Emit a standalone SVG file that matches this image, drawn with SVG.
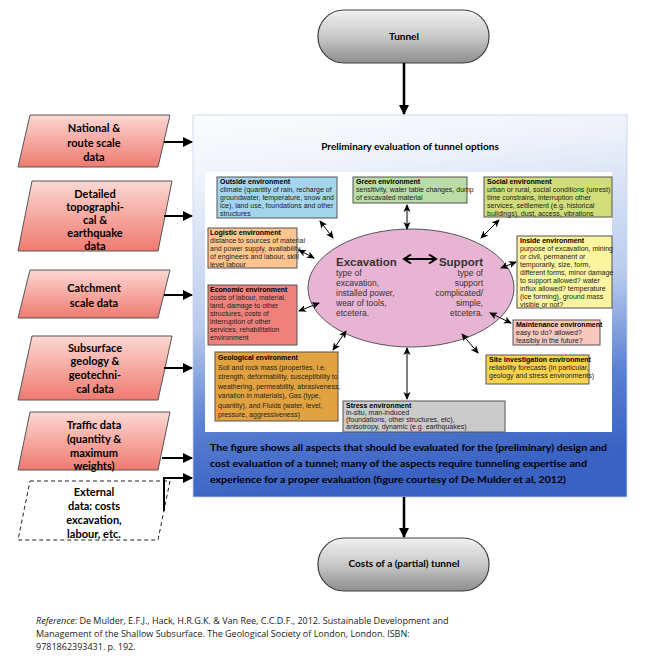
<svg xmlns="http://www.w3.org/2000/svg" width="648" height="663" viewBox="0 0 648 663">
<defs>
<linearGradient id="gPill" x1="0" y1="0" x2="0" y2="1">
<stop offset="0" stop-color="#f2f2f2"/><stop offset="0.5" stop-color="#c8c8c8"/><stop offset="1" stop-color="#8e8e8e"/>
</linearGradient>
<linearGradient id="gMain" x1="0" y1="0" x2="0.15" y2="1">
<stop offset="0" stop-color="#fbfcfe"/><stop offset="0.15" stop-color="#f1f4fb"/><stop offset="0.55" stop-color="#b9cbed"/><stop offset="0.8" stop-color="#5a80d2"/><stop offset="1" stop-color="#3a62c3"/>
</linearGradient>
<linearGradient id="gIn" x1="0" y1="0" x2="0" y2="1">
<stop offset="0" stop-color="#fcd8d3"/><stop offset="1" stop-color="#ef7a70"/>
</linearGradient>
<marker id="ah" markerUnits="userSpaceOnUse" markerWidth="10" markerHeight="10" refX="9" refY="5" orient="auto">
<path d="M0,0 L10,5 L0,10 z" fill="#000"/>
</marker>
<marker id="as" markerUnits="userSpaceOnUse" markerWidth="8" markerHeight="8" refX="7" refY="4" orient="auto-start-reverse">
<path d="M0,0.5 L8,4 L0,7.5 L2,4 z" fill="#000"/>
</marker>
<marker id="am" markerUnits="userSpaceOnUse" markerWidth="10" markerHeight="10" refX="8" refY="5" orient="auto-start-reverse">
<path d="M1,0.5 L8,5 L1,9.5" fill="none" stroke="#000" stroke-width="2"/>
</marker>
</defs>
<style>
.pill{fill:url(#gPill);stroke:#404040;stroke-width:1.2}
.inp{fill:url(#gIn);stroke:#555;stroke-width:1}
.ext{fill:#fff;stroke:#222;stroke-width:1;stroke-dasharray:4,3}
.lt{font-family:Lato,"Liberation Sans",sans-serif;font-weight:bold;font-size:11px;fill:#000;text-anchor:middle}
.ct{font-family:Lato,"Liberation Sans",sans-serif;font-weight:bold;font-size:10px;fill:#000}
.box{stroke:#555;stroke-width:1}
.bt{font-family:"Liberation Sans",Arial,sans-serif;font-size:7px;fill:#222}
.bt .h{font-weight:bold;fill:#000}
.et{font-family:"Liberation Sans",Arial,sans-serif;font-size:8.5px;fill:#333}
.eh{font-family:"Liberation Sans",Arial,sans-serif;font-size:11.5px;font-weight:bold;fill:#333}
.ref{font-family:"Open Sans","Liberation Sans",sans-serif;font-size:9px;fill:#222}
.conn line,.conn path{stroke:#000;fill:none}
</style>

<g id="tunnel">
<rect class="pill" x="318" y="10" width="171" height="53" rx="26"/>
<text class="ct" x="404" y="40" text-anchor="middle">Tunnel</text>
</g>

<g id="costs">
<rect class="pill" x="318" y="538" width="171" height="53" rx="26"/>
<text class="ct" x="404" y="567" text-anchor="middle">Costs of a (partial) tunnel</text>
</g>

<g id="main">
<rect x="193" y="115" width="434" height="382" fill="url(#gMain)" stroke="#c8d2ea" stroke-width="0.8"/>
<text class="ct" x="410" y="150" text-anchor="middle">Preliminary evaluation of tunnel options</text>
<rect x="205" y="172" width="407" height="260" fill="#fff"/>
<text class="ct" x="210" y="451" textLength="397" lengthAdjust="spacingAndGlyphs">The figure shows all aspects that should be evaluated for the (preliminary) design and</text>
<text class="ct" x="210" y="467" textLength="377" lengthAdjust="spacingAndGlyphs">cost evaluation of a tunnel; many of the aspects require tunneling expertise and</text>
<text class="ct" x="210" y="483" textLength="356" lengthAdjust="spacingAndGlyphs">experience for a proper evaluation (figure courtesy of De Mulder et al, 2012)</text>
</g>

<g id="ellipse">
<ellipse cx="411" cy="288" rx="103" ry="59" fill="#e8b4d4" stroke="#555" stroke-width="1"/>
<text class="eh" x="336" y="266">Excavation</text>
<text class="et" x="336" y="276">type of</text>
<text class="et" x="336" y="286">excavation,</text>
<text class="et" x="336" y="296">installed power,</text>
<text class="et" x="336" y="306">wear of tools,</text>
<text class="et" x="336" y="316">etcetera.</text>
<text class="eh" x="483" y="266" text-anchor="end">Support</text>
<text class="et" x="483" y="276" text-anchor="end">type of</text>
<text class="et" x="483" y="286" text-anchor="end">support</text>
<text class="et" x="483" y="296" text-anchor="end">complicated/</text>
<text class="et" x="483" y="306" text-anchor="end">simple,</text>
<text class="et" x="483" y="316" text-anchor="end">etcetera.</text>
</g>

<g id="outside">
<rect class="box" x="217" y="177" width="120" height="41" fill="#a3d5ec"/>
<text class="bt"><tspan class="h" x="220" y="184">Outside environment</tspan><tspan x="220" y="192">climate (quantity of rain, recharge of</tspan><tspan x="220" y="200">groundwater, temperature, snow and</tspan><tspan x="220" y="208">ice), land use, foundations and other</tspan><tspan x="220" y="216">structures</tspan></text>
</g>
<g id="green">
<rect class="box" x="353" y="177" width="114" height="26" fill="#badca6"/>
<text class="bt"><tspan class="h" x="356" y="184">Green  environment</tspan><tspan x="356" y="192">sensitivity, water table changes, dump</tspan><tspan x="356" y="200">of excavated material</tspan></text>
</g>
<g id="social">
<rect class="box" x="484" y="177" width="128" height="40" fill="#d1dd7a"/>
<text class="bt"><tspan class="h" x="487" y="184">Social environment</tspan><tspan x="487" y="192">urban or rural, social conditions (unrest)</tspan><tspan x="487" y="200">time constrains, interruption other</tspan><tspan x="487" y="208">services, settlement (e.g. historical</tspan><tspan x="487" y="216">buildings), dust, access, vibrations</tspan></text>
</g>
<g id="logistic">
<rect class="box" x="208" y="228" width="89" height="40" fill="#fcc590"/>
<text class="bt"><tspan class="h" x="210" y="235">Logistic environment</tspan><tspan x="210" y="243">distance to sources of material</tspan><tspan x="210" y="251">and power supply, availability</tspan><tspan x="210" y="259">of engineers and labour, skill</tspan><tspan x="210" y="267">level labour</tspan></text>
</g>
<g id="economic">
<rect class="box" x="208" y="285" width="89" height="60" fill="#f0817a"/>
<text class="bt"><tspan class="h" x="210" y="292">Economic environment</tspan><tspan x="210" y="300">costs of labour, material,</tspan><tspan x="210" y="308">land, damage to other</tspan><tspan x="210" y="316">structures, costs of</tspan><tspan x="210" y="324">interruption of other</tspan><tspan x="210" y="332">services, rehabilitation</tspan><tspan x="210" y="340">environment</tspan></text>
</g>
<g id="inside">
<rect class="box" x="517" y="236" width="95" height="72" fill="#fbf4a0"/>
<text class="bt"><tspan class="h" x="520" y="243">Inside environment</tspan><tspan x="520" y="251">purpose of excavation, mining</tspan><tspan x="520" y="259">or civil, permanent or</tspan><tspan x="520" y="267">temporarily, size, form,</tspan><tspan x="520" y="275">different forms, minor damage</tspan><tspan x="520" y="283">to support allowed? water</tspan><tspan x="520" y="291">influx allowed? temperature</tspan><tspan x="520" y="299">(ice forming), ground mass</tspan><tspan x="520" y="307">visible or not?</tspan></text>
</g>
<g id="maintenance">
<rect class="box" x="513" y="320" width="87" height="25" fill="#f8c7be"/>
<text class="bt"><tspan class="h" x="516" y="327">Maintenance  environment</tspan><tspan x="516" y="335">easy to do? allowed?</tspan><tspan x="516" y="343">feasibly in  the future?</tspan></text>
</g>
<g id="siteinv">
<rect class="box" x="486" y="355" width="103" height="29" fill="#f6d24e"/>
<text class="bt"><tspan class="h" x="489" y="362">Site investigation environment</tspan><tspan x="489" y="370">reliability forecasts (in particular,</tspan><tspan x="489" y="378">geology and stress environments)</tspan></text>
</g>
<g id="geological">
<rect class="box" x="215" y="352" width="123" height="69" fill="#e2a23f"/>
<text class="bt"><tspan class="h" x="218" y="360">Geological environment</tspan><tspan x="218" y="369.5">Soil and rock mass (properties, i.e.</tspan><tspan x="218" y="379">strength, deformability, susceptibility to</tspan><tspan x="218" y="388.5">weathering, permeability, abrasiveness,</tspan><tspan x="218" y="398">variation in materials), Gas (type,</tspan><tspan x="218" y="407.5">quantity), and Fluids (water, level,</tspan><tspan x="218" y="417">pressure, aggressiveness)</tspan></text>
</g>
<g id="stress">
<rect class="box" x="343" y="401" width="162" height="31" fill="#cbcbcb"/>
<text class="bt"><tspan class="h" x="346" y="408">Stress environment</tspan><tspan x="346" y="415">in-situ, man-induced</tspan><tspan x="346" y="422">(foundations, other structures, etc),</tspan><tspan x="346" y="429">anisotropy, dynamic (e.g. earthquakes)</tspan></text>
</g>

<g id="in1">
<polygon class="inp" points="30,115 170,115 158,167 18,167"/>
<text class="lt"><tspan x="94" y="132">National &amp;</tspan><tspan x="94" y="147">route scale</tspan><tspan x="94" y="161">data</tspan></text>
</g>
<g id="in2">
<polygon class="inp" points="32,181 172,181 158,251 18,251"/>
<text class="lt"><tspan x="95" y="198">Detailed</tspan><tspan x="95" y="211">topographi-</tspan><tspan x="95" y="224">cal &amp;</tspan><tspan x="95" y="237">earthquake</tspan><tspan x="95" y="250">data</tspan></text>
</g>
<g id="in3">
<polygon class="inp" points="30,270 170,270 158,318 18,318"/>
<text class="lt"><tspan x="94" y="292">Catchment</tspan><tspan x="94" y="307">scale data</tspan></text>
</g>
<g id="in4">
<polygon class="inp" points="32,336 172,336 158,400 18,400"/>
<text class="lt"><tspan x="95" y="352">Subsurface</tspan><tspan x="95" y="365">geology &amp;</tspan><tspan x="95" y="379">geotechni-</tspan><tspan x="95" y="393">cal  data</tspan></text>
</g>
<g id="in5">
<polygon class="inp" points="30,412 170,412 158,470 18,470"/>
<text class="lt"><tspan x="94" y="429">Traffic data</tspan><tspan x="94" y="443">(quantity &amp;</tspan><tspan x="94" y="457">maximum</tspan><tspan x="94" y="470">weights)</tspan></text>
</g>
<g id="in6">
<polygon class="ext" points="30,481 170,481 158,540 18,540"/>
<text class="lt"><tspan x="94" y="496">External</tspan><tspan x="94" y="510">data: costs</tspan><tspan x="94" y="524">excavation,</tspan><tspan x="94" y="538">labour, etc.</tspan></text>
</g>

<g id="connectors" class="conn">
<line x1="404" y1="63" x2="404" y2="114" stroke-width="2.5" marker-end="url(#ah)"/>
<line x1="404" y1="497" x2="404" y2="537" stroke-width="2.5" marker-end="url(#ah)"/>
<line x1="164" y1="142" x2="192" y2="142" stroke-width="2" marker-end="url(#ah)"/>
<line x1="164" y1="216" x2="192" y2="216" stroke-width="2" marker-end="url(#ah)"/>
<line x1="164" y1="295" x2="192" y2="295" stroke-width="2" marker-end="url(#ah)"/>
<line x1="164" y1="368" x2="192" y2="368" stroke-width="2" marker-end="url(#ah)"/>
<line x1="162" y1="458" x2="192" y2="458" stroke-width="2" marker-end="url(#ah)"/>
<path d="M164,511 L164,478 L192,478" stroke-width="2" marker-end="url(#ah)"/>
<line x1="404" y1="259" x2="436" y2="259" stroke-width="2" marker-start="url(#am)" marker-end="url(#am)"/>
<line x1="333" y1="238" x2="320" y2="221" stroke-width="1" marker-start="url(#as)" marker-end="url(#as)"/>
<line x1="407" y1="229" x2="407" y2="205" stroke-width="1" marker-start="url(#as)" marker-end="url(#as)"/>
<line x1="481" y1="238" x2="499" y2="220" stroke-width="1" marker-start="url(#as)" marker-end="url(#as)"/>
<line x1="314" y1="258" x2="299" y2="250" stroke-width="1" marker-start="url(#as)" marker-end="url(#as)"/>
<line x1="319" y1="303" x2="299" y2="311" stroke-width="1" marker-start="url(#as)" marker-end="url(#as)"/>
<line x1="501" y1="268" x2="516" y2="262" stroke-width="1" marker-start="url(#as)" marker-end="url(#as)"/>
<line x1="490" y1="313" x2="511" y2="323" stroke-width="1" marker-start="url(#as)" marker-end="url(#as)"/>
<line x1="346" y1="331" x2="333" y2="350" stroke-width="1" marker-start="url(#as)" marker-end="url(#as)"/>
<line x1="407" y1="348" x2="407" y2="399" stroke-width="1" marker-start="url(#as)" marker-end="url(#as)"/>
<line x1="462" y1="334" x2="478" y2="353" stroke-width="1" marker-start="url(#as)" marker-end="url(#as)"/>
</g>

<g id="reference">
<text class="ref" x="36" y="624"><tspan font-style="italic">Reference</tspan>: De Mulder, E.F.J., Hack, H.R.G.K. &amp; Van Ree, C.C.D.F., 2012. Sustainable Development and</text>
<text class="ref" x="36" y="637">Management of the Shallow Subsurface. The Geological Society of London, London. ISBN:</text>
<text class="ref" x="36" y="650">9781862393431. p. 192.</text>
</g>
</svg>
